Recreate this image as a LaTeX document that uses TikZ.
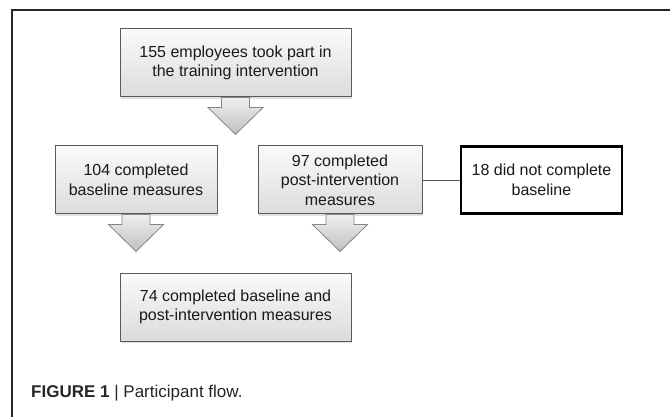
\documentclass[tikz,border=0pt]{standalone}
\usepackage{fontspec}
\setmainfont{Liberation Sans}
\usetikzlibrary{shadows}
\definecolor{txt}{HTML}{1A1A1A}
\definecolor{boxline}{HTML}{5A5A5A}
\definecolor{arrline}{HTML}{858585}
\tikzset{
  flowbox/.style={rectangle, draw=boxline, line width=1pt, inner sep=0pt,
    top color=gray!4, bottom color=gray!28, text=txt, align=center,
    font=\fontsize{16}{19.5}\selectfont,
    drop shadow={opacity=0.25, shadow xshift=0.8pt, shadow yshift=-1.6pt, fill=gray}},
  plainbox/.style={rectangle, draw=black, line width=2.2pt, fill=white, inner sep=0pt,
    text=txt, align=center, font=\fontsize{16}{19.5}\selectfont},
  blockarrow/.style={draw=arrline, line width=0.8pt, top color=gray!12, bottom color=gray!50,
    line join=miter},
  linkline/.style={draw=gray!70!black, line width=0.8pt},
  framestroke/.style={draw=black!85, line width=1.4pt}
}
\newcommand{\downblock}[1]{%
  \path[blockarrow]
    ([xshift=-14pt]#1.south) -- ([xshift=-14pt,yshift=-10pt]#1.south)
    -- ([xshift=-27.5pt,yshift=-10pt]#1.south) -- ([yshift=-37pt]#1.south)
    -- ([xshift=27.5pt,yshift=-10pt]#1.south) -- ([xshift=14pt,yshift=-10pt]#1.south)
    -- ([xshift=14pt]#1.south) -- cycle;}
\begin{document}
\begin{tikzpicture}[x=1pt, y=-1pt]
\useasboundingbox (0,0) rectangle (670,417);
\fill[white] (0,0) rectangle (670,417);
\draw[framestroke] (12,417) -- (12,10) -- (670,10);

\node[flowbox, minimum width=231pt, minimum height=68pt] (b1) at (235.5,63)
  {155 employees took part in\\the training intervention};
\node[flowbox, minimum width=162pt, minimum height=68pt] (b2) at (136,180)
  {104 completed\\baseline measures};
\node[flowbox, minimum width=164pt, minimum height=68pt] (b3) at (340,180)
  {97 completed\\post-intervention\\measures};
\node[plainbox, minimum width=161pt, minimum height=67pt] (b4) at (541.5,180)
  {18 did not complete\\baseline};
\node[flowbox, minimum width=231pt, minimum height=68pt] (b5) at (235.5,307)
  {74 completed baseline and\\post-intervention measures};

\downblock{b1}
\downblock{b2}
\downblock{b3}

\draw[linkline] (b3.east) -- (b4.west);

\node[anchor=west, text=black!85, font=\fontsize{17}{19}\selectfont, inner sep=0pt] (cap) at (31,393)
  {\textbf{FIGURE 1} | Participant flow.};
\end{tikzpicture}
\end{document}
